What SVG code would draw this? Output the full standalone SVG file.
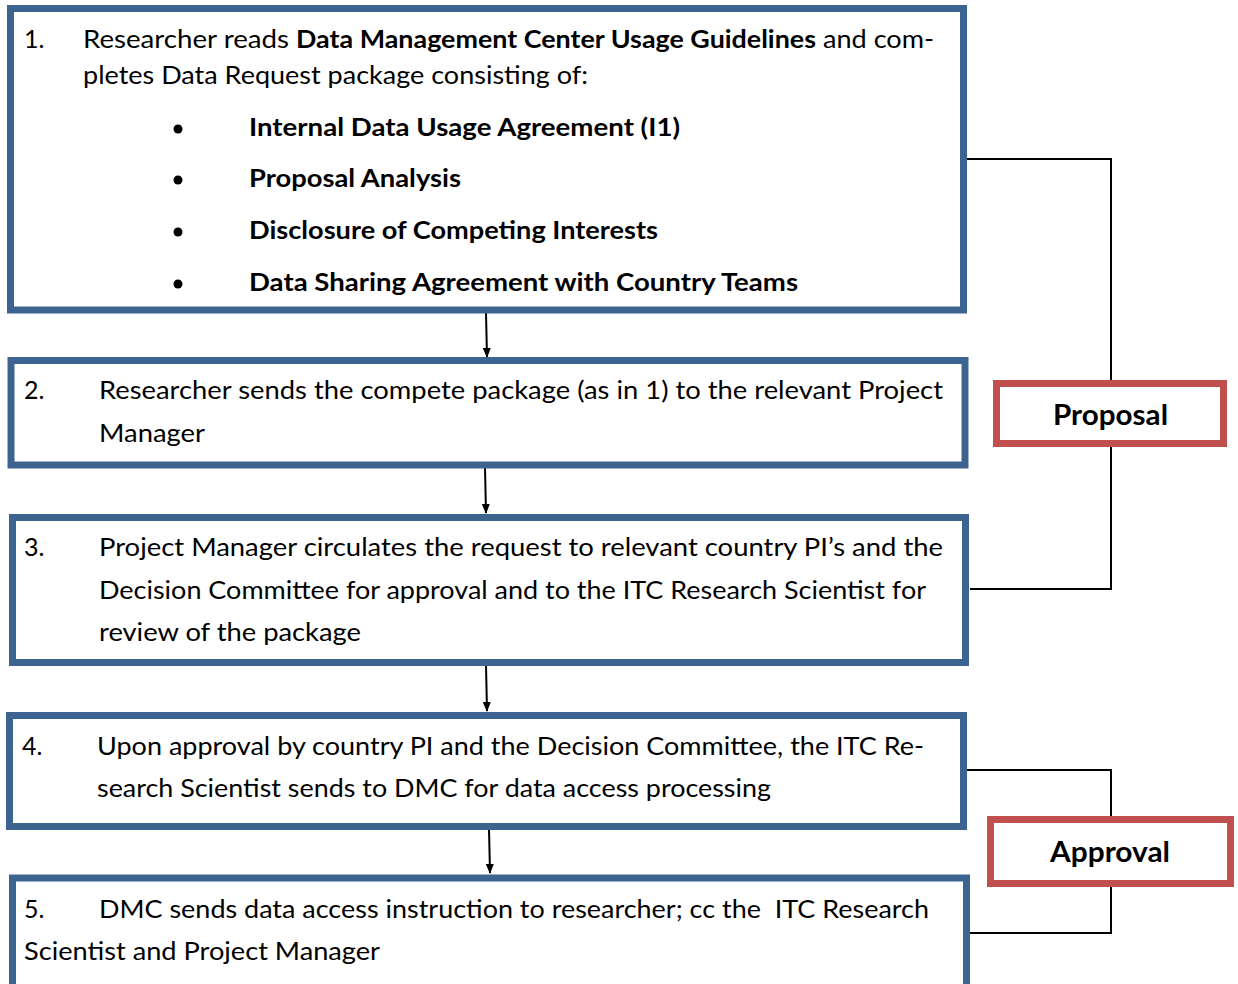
<svg xmlns="http://www.w3.org/2000/svg" width="1238" height="984" viewBox="0 0 1238 984">
<style>
.box{fill:#fff;stroke:#3d6491;stroke-width:7}
.tag{fill:#fff;stroke:#c0504d;stroke-width:7}
.t{font-family:Lato,"Open Sans","Liberation Sans",sans-serif;font-size:25px;fill:#000;white-space:pre}
.b{font-weight:bold}
.lb{font-family:Lato,"Open Sans","Liberation Sans",sans-serif;font-size:28px;font-weight:bold;fill:#000;text-anchor:middle}
.ln{fill:none;stroke:#000;stroke-width:2}
</style>
<defs>
<marker id="ah" markerWidth="10" markerHeight="10" refX="9" refY="5" orient="auto" markerUnits="userSpaceOnUse">
<path d="M0,1 L10,5 L0,9 z" fill="#000"/>
</marker>
</defs>
<rect width="1238" height="984" fill="#fff"/>
<g id="connectors">
<line class="ln" x1="486" y1="313" x2="487" y2="357" marker-end="url(#ah)"/>
<line class="ln" x1="485" y1="468" x2="486" y2="513" marker-end="url(#ah)"/>
<line class="ln" x1="486" y1="665" x2="487" y2="711" marker-end="url(#ah)"/>
<line class="ln" x1="489" y1="829" x2="490" y2="873" marker-end="url(#ah)"/>
<polyline class="ln" points="967,159 1111,159 1111,380"/>
<polyline class="ln" points="1111,447 1111,589 970,589"/>
<polyline class="ln" points="966,770 1111,770 1111,816"/>
<polyline class="ln" points="1111,887 1111,933 970,933"/>
</g>
<g id="node1">
<rect class="box" x="10.5" y="8.5" width="953" height="301.5"/>
<text class="t" x="24" y="48">1.</text>
<text class="t" x="83" y="48" textLength="206" lengthAdjust="spacingAndGlyphs">Researcher reads</text>
<text class="t b" x="296" y="48" textLength="520" lengthAdjust="spacingAndGlyphs">Data Management Center Usage Guidelines</text>
<text class="t" x="823" y="48" textLength="111" lengthAdjust="spacingAndGlyphs">and com-</text>
<text class="t" x="83" y="84" textLength="505" lengthAdjust="spacingAndGlyphs">pletes Data Request package consisting of:</text>
<circle cx="178" cy="129" r="4.5" fill="#000"/>
<circle cx="178" cy="180" r="4.5" fill="#000"/>
<circle cx="178" cy="232" r="4.5" fill="#000"/>
<circle cx="178" cy="284" r="4.5" fill="#000"/>
<text class="t b" x="249" y="136" textLength="431" lengthAdjust="spacingAndGlyphs">Internal Data Usage Agreement (I1)</text>
<text class="t b" x="249" y="187" textLength="212" lengthAdjust="spacingAndGlyphs">Proposal Analysis</text>
<text class="t b" x="249" y="239" textLength="409" lengthAdjust="spacingAndGlyphs">Disclosure of Competing Interests</text>
<text class="t b" x="249" y="291" textLength="549" lengthAdjust="spacingAndGlyphs">Data Sharing Agreement with Country Teams</text>
</g>
<g id="node2">
<rect class="box" x="11" y="360.5" width="954" height="104.5"/>
<text class="t" x="24" y="399">2.</text>
<text class="t" x="99" y="399" textLength="844" lengthAdjust="spacingAndGlyphs">Researcher sends the compete package (as in 1) to the relevant Project</text>
<text class="t" x="99" y="442" textLength="106" lengthAdjust="spacingAndGlyphs">Manager</text>
</g>
<g id="node3">
<rect class="box" x="12.5" y="517.5" width="953" height="145"/>
<text class="t" x="24" y="556">3.</text>
<text class="t" x="99" y="556" textLength="844" lengthAdjust="spacingAndGlyphs">Project Manager circulates the request to relevant country PI’s and the</text>
<text class="t" x="99" y="599" textLength="827" lengthAdjust="spacingAndGlyphs">Decision Committee for approval and to the ITC Research Scientist for</text>
<text class="t" x="99" y="641" textLength="262" lengthAdjust="spacingAndGlyphs">review of the package</text>
</g>
<g id="node4">
<rect class="box" x="9.5" y="715.5" width="954" height="111"/>
<text class="t" x="22" y="755">4.</text>
<text class="t" x="97" y="755" textLength="827" lengthAdjust="spacingAndGlyphs">Upon approval by country PI and the Decision Committee, the ITC Re-</text>
<text class="t" x="97" y="797" textLength="674" lengthAdjust="spacingAndGlyphs">search Scientist sends to DMC for data access processing</text>
</g>
<g id="node5">
<rect class="box" x="12.5" y="878" width="954" height="130"/>
<text class="t" x="24" y="918">5.</text>
<text class="t" x="99" y="918" textLength="830" lengthAdjust="spacingAndGlyphs" xml:space="preserve">DMC sends data access instruction to researcher; cc the  ITC Research</text>
<text class="t" x="24" y="960" textLength="356" lengthAdjust="spacingAndGlyphs">Scientist and Project Manager</text>
</g>
<g id="proposal">
<rect class="tag" x="996.5" y="383.5" width="227" height="60"/>
<text class="lb" x="1110.5" y="425" textLength="115" lengthAdjust="spacingAndGlyphs">Proposal</text>
</g>
<g id="approval">
<rect class="tag" x="990.5" y="819.5" width="240" height="64"/>
<text class="lb" x="1110" y="862" textLength="120" lengthAdjust="spacingAndGlyphs">Approval</text>
</g>
</svg>
